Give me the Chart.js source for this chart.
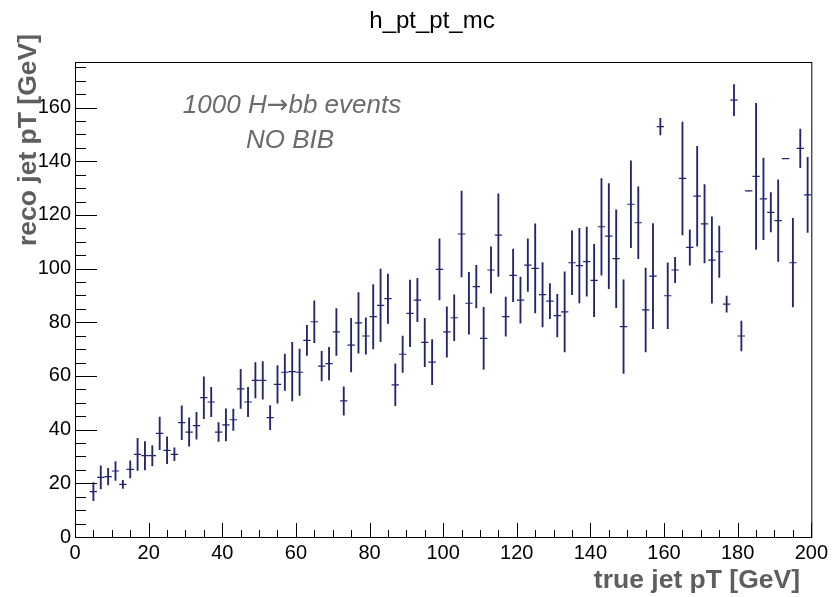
<!DOCTYPE html>
<html>
<head>
<meta charset="utf-8">
<script src="https://cdn.jsdelivr.net/npm/chart.js@4"></script>
<style>
body { margin: 0; background: #fff; }
</style>
</head>
<body>
<canvas id="h_pt_pt_mc" width="832" height="597"></canvas>
<script>
// bin centres of the profile (true jet pT, GeV)
var truePt = [5, 7, 9, 11, 13, 15, 17, 19, 21, 23, 25, 27, 29, 31, 33, 35, 37, 39, 41, 43,
    45, 47, 49, 51, 53, 55, 57, 59, 61, 63, 65, 67, 69, 71, 73, 75, 77, 79, 81, 83,
    85, 87, 89, 91, 93, 95, 97, 99, 101, 103, 105, 107, 109, 111, 113, 115, 117, 119, 121, 123,
    125, 127, 129, 131, 133, 135, 137, 139, 141, 143, 145, 147, 149, 151, 153, 155, 157, 159, 161, 163,
    165, 167, 169, 171, 173, 175, 177, 179, 181, 183, 185, 187, 189, 191, 193, 195, 197, 199]

// mean reco jet pT per bin
var recoPt = [16.9, 22.2, 22.5, 24.6, 19.6, 25.2, 30.8, 30.3, 30.3, 38.6, 32.3, 30.8, 42.6, 39.1, 41.5, 51.9, 50.3, 39.1, 41.8, 43.7,
    55.2, 50.3, 58.4, 58.4, 44.5, 56.9, 61.4, 61.6, 61.4, 73.3, 80.2, 63.7, 64.6, 76.4, 50.7, 71.5, 79.8, 74.9, 82.1, 86.3,
    88.8, 56.7, 68.1, 83.3, 88.3, 72.5, 65.2, 99.7, 76.4, 81.7, 112.9, 87.1, 93.3, 74.0, 99.5, 112.5, 82.1, 97.5, 88.3, 101.3,
    100.1, 90.3, 87.9, 82.5, 83.9, 102.2, 101.1, 102.6, 95.6, 115.6, 112.1, 103.7, 78.4, 124.0, 117.1, 84.6, 97.2, 152.9, 89.9, 99.5,
    133.6, 107.9, 127.0, 116.7, 103.2, 106.3, 86.8, 162.8, 74.9, 129.0, 134.4, 126.0, 121.0, 117.9, 141.0, 102.2, 144.8, 127.5]

// error on the mean
var recoErr = [3.4, 4.3, 3.1, 3.5, 1.5, 3.2, 6.0, 5.3, 3.8, 6.1, 5.0, 2.4, 6.3, 5.3, 5.0, 7.8, 5.5, 3.5, 6.0, 4.0,
    7.3, 5.5, 6.6, 7.0, 4.5, 7.0, 6.8, 10.9, 8.6, 5.6, 7.8, 5.5, 6.1, 8.7, 5.3, 10.0, 11.3, 6.8, 12.0, 13.5,
    9.2, 7.8, 6.8, 12.4, 8.1, 9.0, 8.4, 11.4, 9.4, 8.5, 16.0, 11.5, 7.9, 11.6, 8.6, 15.4, 7.3, 9.8, 8.6, 9.8,
    16.6, 12.0, 6.5, 7.9, 14.9, 11.9, 13.9, 12.9, 13.5, 18.0, 19.6, 18.2, 17.4, 16.2, 13.4, 15.6, 19.6, 3.1, 12.3, 4.7,
    21.0, 6.6, 18.6, 14.6, 16.1, 9.6, 3.0, 5.8, 5.6, 0, 27.2, 15.2, 7.3, 15.2, 0, 16.5, 7.2, 14.0]

var binWidth = 2
var notes = ["1000 H", "\u2192", "bb events", "NO BIB"]

var lineColor = '#24246f'

var errorBars = []
var centres = []
for (var i = 0; i < truePt.length; i++) {
    errorBars.push({x: truePt[i], y: [recoPt[i] - recoErr[i], recoPt[i] + recoErr[i]]})
    centres.push({x: truePt[i], y: recoPt[i]})
}

var rootFrame = {
    id: 'rootFrame',
    afterDraw: function(chart) {
        var ctx = chart.ctx
        var area = chart.chartArea
        var xs = chart.scales.x
        var ys = chart.scales.y
        ctx.save()
        ctx.strokeStyle = '#000'
        ctx.lineWidth = 1
        ctx.strokeRect(area.left + 0.5, area.top + 0.5, area.right - area.left, area.bottom - area.top)

        ctx.beginPath()
        for (var v = 0; v <= 200; v += 5) {
            var px = Math.round(xs.getPixelForValue(v)) + 0.5
            var len = (v % 20 == 0) ? 14 : 7
            ctx.moveTo(px, area.bottom)
            ctx.lineTo(px, area.bottom - len)
        }
        for (var w = 0; w <= ys.max; w += 5) {
            var py = Math.round(ys.getPixelForValue(w)) + 0.5
            var ylen = (w % 20 == 0) ? 22 : 11
            ctx.moveTo(area.left, py)
            ctx.lineTo(area.left + ylen, py)
        }
        ctx.stroke()

        // histogram title
        ctx.fillStyle = '#000'
        ctx.font = '24px "Liberation Sans", Arial, sans-serif'
        ctx.textAlign = 'center'
        ctx.textBaseline = 'alphabetic'
        ctx.fillText('h_pt_pt_mc', 432, 28)

        // axis titles
        ctx.fillStyle = '#5e5e5e'
        ctx.font = 'bold 26.5px "Liberation Sans", Arial, sans-serif'
        ctx.textAlign = 'right'
        ctx.fillText('true jet pT [GeV]', 800, 588)

        ctx.save()
        ctx.translate(36, 34)
        ctx.rotate(-Math.PI / 2)
        ctx.textAlign = 'right'
        ctx.fillText('reco jet pT [GeV]', 0, 0)
        ctx.restore()

        // annotation, the arrow comes from a font that has a long one
        ctx.fillStyle = '#6b6b6b'
        var textFont = 'italic 26px "Liberation Sans", Arial, sans-serif'
        var arrowFont = '26px "DejaVu Sans", sans-serif'
        ctx.textAlign = 'left'
        ctx.font = textFont
        var w1 = ctx.measureText(notes[0]).width
        var w3 = ctx.measureText(notes[2]).width
        ctx.font = arrowFont
        var w2 = ctx.measureText(notes[1]).width
        var x0 = 292 - (w1 + w2 + w3) / 2
        ctx.font = textFont
        ctx.fillText(notes[0], x0, 113)
        ctx.font = arrowFont
        ctx.fillText(notes[1], x0 + w1, 113)
        ctx.font = textFont
        ctx.fillText(notes[2], x0 + w1 + w2, 113)
        ctx.textAlign = 'center'
        ctx.fillText(notes[3], 290, 148)
        ctx.restore()
    }
}

var canvas = document.querySelector('#h_pt_pt_mc')

var profileChart = new Chart(canvas, {
    type: 'bar',
    data: {
        datasets: [{
            label: 'error',
            data: errorBars,
            backgroundColor: lineColor,
            borderWidth: 0,
            barThickness: 1.2,
            grouped: false
        }, {
            type: 'scatter',
            label: 'mean',
            data: centres,
            pointStyle: 'line',
            borderColor: lineColor,
            borderWidth: 1.2,
            radius: function(c) {
                var xs = c.chart.scales.x
                return (xs.getPixelForValue(binWidth) - xs.getPixelForValue(0)) / 2
            },
            showLine: false
        }]
    },
    options: {
        responsive: false,
        animation: false,
        devicePixelRatio: 1,
        layout: {padding: {top: 62, right: 16, left: 0, bottom: 0}},
        plugins: {
            legend: {display: false},
            tooltip: {enabled: false},
            title: {display: false}
        },
        scales: {
            x: {
                type: 'linear',
                min: 0,
                max: 200,
                offset: false,
                grid: {display: false, drawTicks: false},
                border: {display: false},
                ticks: {
                    stepSize: 20,
                    includeBounds: false,
                    maxRotation: 0,
                    padding: 4,
                    color: '#000',
                    font: {family: '"Liberation Sans", Arial, sans-serif', size: 20}
                },
                afterFit: function(scale) { scale.height = 60 }
            },
            y: {
                type: 'linear',
                min: 0,
                max: 177,
                grid: {display: false, drawTicks: false},
                border: {display: false},
                ticks: {
                    stepSize: 20,
                    includeBounds: false,
                    padding: 4,
                    color: '#000',
                    font: {family: '"Liberation Sans", Arial, sans-serif', size: 20}
                },
                afterFit: function(scale) { scale.width = 75 }
            }
        }
    },
    plugins: [rootFrame]
})
</script>
</body>
</html>
